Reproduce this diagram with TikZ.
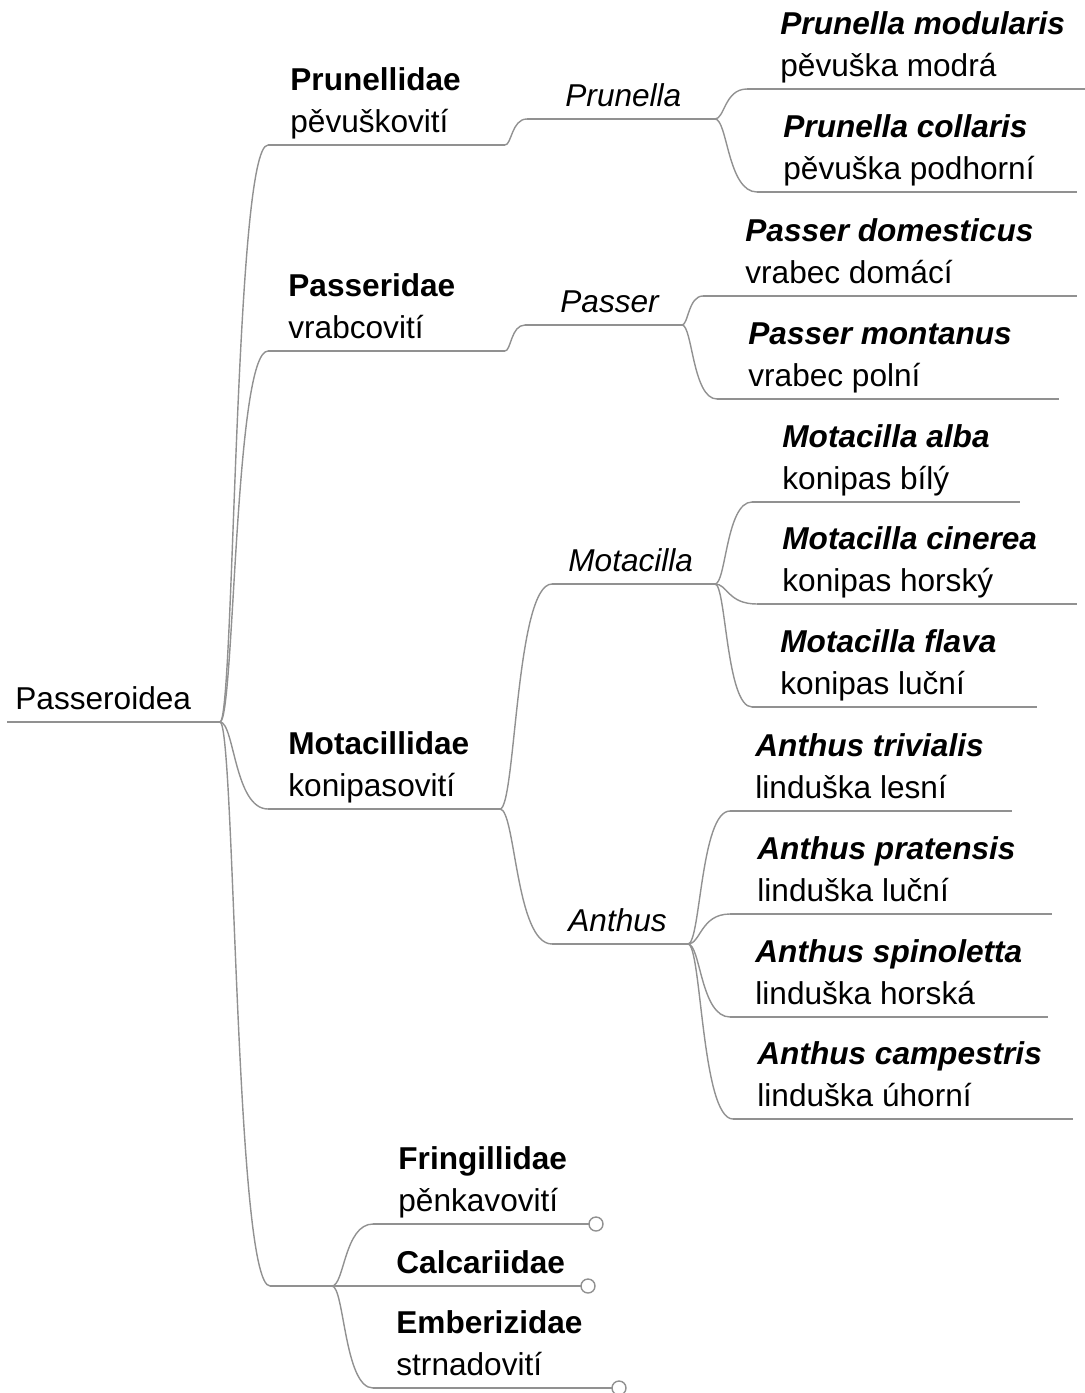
\documentclass[tikz,border=0pt]{standalone}
\usepackage{fontspec}
\setmainfont{Liberation Sans}
\usetikzlibrary{calc}

\definecolor{linegray}{RGB}{145,145,145}
\newcommand{\mapfont}{\fontsize{15.8pt}{21pt}\selectfont}

\begin{document}
\begin{tikzpicture}[x=0.5pt, y=-0.5pt,
    every node/.style={inner sep=0pt, anchor=base west, font=\mapfont},
    family/.style={font=\mapfont\bfseries},
    genus/.style={font=\mapfont\itshape},
    species/.style={font=\mapfont\bfseries\itshape},
    underline/.style={draw=linegray, line width=0.7pt},
    branch/.style={draw=linegray, line width=0.7pt,
        to path={let \p1=(\tikztostart), \p2=(\tikztotarget) in
            .. controls ({0.7*\x1+0.3*\x2},\y1) and ({0.7*\x1+0.3*\x2},\y2) .. (\tikztotarget) \tikztonodes}},
    collapsed/.style={draw=linegray, fill=white, line width=0.7pt}]

\useasboundingbox (0,0) rectangle (1085,1393);

% Underlines of all topics: name / left x / right x / y
\foreach \nm/\xa/\xb/\y in {root/7/220/722,
    prunellidae/268/505/145,passeridae/268/505/351,
    motacillidae/268/500/809,hub/270/332/1286,
    prunella/527/715/119,passer/525/682/325,
    motacilla/552/715/584,anthus/552/688/944,
    fringillidae/373/589/1224,calcariidae/336/581/1286,
    emberizidae/373/612/1388,
    modularis/747/1085/89,collaris/757/1077/192,
    domesticus/703/1077/296,montanus/717/1059/399,
    alba/752/1020/502,cinerea/757/1077/604,flava/752/1037/707,
    trivialis/730/1012/811,pratensis/730/1052/914,
    spinoletta/730/1048/1017,campestris/733/1073/1119} {
    \coordinate (\nm-w) at (\xa,\y);
    \coordinate (\nm-e) at (\xb,\y);
    \draw[underline] (\nm-w) -- (\nm-e);
}

% Root
\node (root) at (15,709.5) {Passeroidea};

% Families (bold name, Czech name below)
\foreach \nm/\tx/\y/\lat/\cz in {prunellidae/290/145/Prunellidae/pěvuškovití,
    passeridae/288/351/Passeridae/vrabcovití,
    motacillidae/288/809/Motacillidae/konipasovití,
    fringillidae/398/1224/Fringillidae/pěnkavovití,
    emberizidae/396/1388/Emberizidae/strnadovití} {
    \node[family] (\nm) at (\tx,\y-54.5) {\lat};
    \node (\nm-cz) at (\tx,\y-12.5) {\cz};
}
\node[family] (calcariidae) at (396,1273.5) {Calcariidae};

% Genera
\foreach \nm/\tx/\y/\lat in {prunella/565/119/Prunella,passer/560/325/Passer,
    motacilla/568/584/Motacilla,anthus/568/944/Anthus} {
    \node[genus] (\nm) at (\tx,\y-13) {\lat};
}

% Species (bold italic name, Czech name below)
\foreach \nm/\tx/\y/\lat/\cz in {modularis/780/89/Prunella modularis/pěvuška modrá,
    collaris/783/192/Prunella collaris/pěvuška podhorní,
    domesticus/745/296/Passer domesticus/vrabec domácí,
    montanus/748/399/Passer montanus/vrabec polní,
    alba/782/502/Motacilla alba/konipas bílý,
    cinerea/782/604/Motacilla cinerea/konipas horský,
    flava/780/707/Motacilla flava/konipas luční,
    trivialis/755/811/Anthus trivialis/linduška lesní,
    pratensis/757/914/Anthus pratensis/linduška luční,
    spinoletta/755/1017/Anthus spinoletta/linduška horská,
    campestris/757/1119/Anthus campestris/linduška úhorní} {
    \node[species] (\nm) at (\tx,\y-54.5) {\lat};
    \node (\nm-cz) at (\tx,\y-12.5) {\cz};
}

% Curved branches from parent to child
\foreach \a/\b in {root/prunellidae,root/passeridae,root/motacillidae,root/hub,
    prunellidae/prunella,passeridae/passer,
    motacillidae/motacilla,motacillidae/anthus,
    hub/fringillidae,hub/calcariidae,hub/emberizidae,
    prunella/modularis,prunella/collaris,passer/domesticus,passer/montanus,
    motacilla/alba,motacilla/cinerea,motacilla/flava,
    anthus/trivialis,anthus/pratensis,anthus/spinoletta,anthus/campestris} {
    \draw[branch] (\a-e) to (\b-w);
}

% Collapsed markers
\foreach \nm in {fringillidae,calcariidae,emberizidae} {
    \draw[collapsed] ([xshift=3.5pt]\nm-e) circle (7);
}

\end{tikzpicture}
\end{document}
